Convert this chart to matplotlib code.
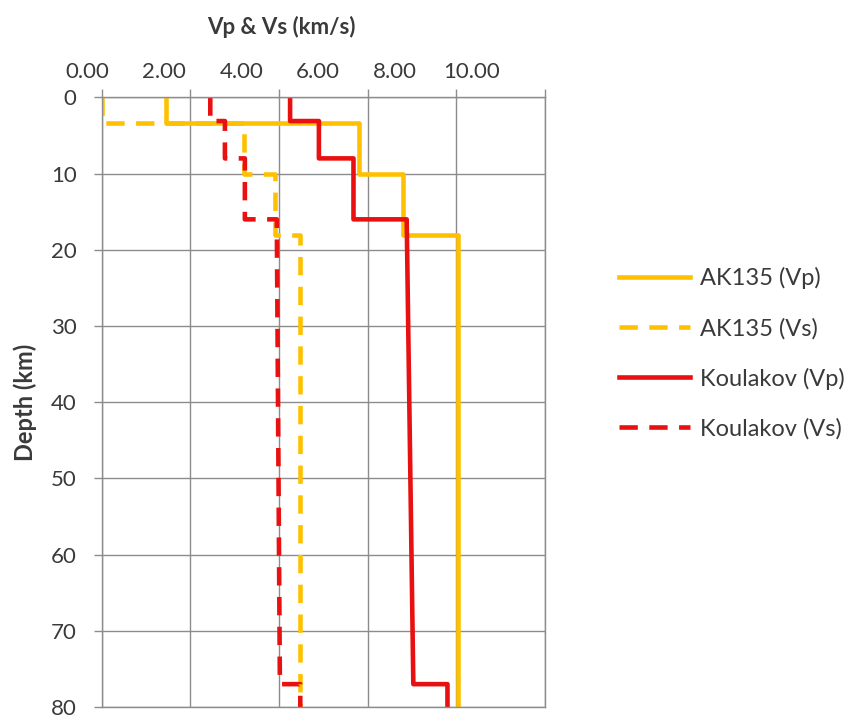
import numpy as np
import matplotlib.pyplot as plt

plt.rcParams['font.family'] = ['Lato', 'DejaVu Sans']

# step velocity profiles (depth km, velocity km/s)
ak_depth = [0, 3.3, 3.3, 10, 10, 18, 18, 80]
ak_vp = [1.45, 1.45, 5.8, 5.8, 6.8, 6.8, 8.04, 8.04]
ak_vs = [0.0, 0.0, 3.2, 3.2, 3.9, 3.9, 4.48, 4.48]

ko_depth = [0, 3.1, 3.1, 8, 8, 16, 16, 77, 77, 80]
ko_vp = [4.25, 4.25, 4.9, 4.9, 5.68, 5.68, 6.88, 7.03, 7.8, 7.8]
ko_vs = [2.45, 2.45, 2.78, 2.78, 3.23, 3.23, 3.95, 4.02, 4.48, 4.48]

x_ticks = [0, 2, 4, 6, 8, 10]
x_tick_labels = ['0.00', '2.00', '4.00', '6.00', '8.00', '10.00']
y_ticks = [0, 10, 20, 30, 40, 50, 60, 70, 80]

orange = '#FFC000'
red = '#E81010'
grid_col = '#8C8C8C'
txt = '#3A3A3A'

fig = plt.figure(figsize=(8.58, 7.18), dpi=100)
ax = fig.add_axes([0.1185, 0.0153, 0.5167, 0.849])

dash = (4, 2.5)
ax.plot(ak_vp, ak_depth, color=orange, lw=3.3, label='AK135 (Vp)')
ax.plot(ak_vs, ak_depth, color=orange, lw=3.3, dashes=dash, label='AK135 (Vs)')
ax.plot(ko_vp, ko_depth, color=red, lw=3.3, label='Koulakov (Vp)')
ax.plot(ko_vs, ko_depth, color=red, lw=3.3, dashes=dash, label='Koulakov (Vs)')

ax.set_xticks(x_ticks)
ax.set_yticks(y_ticks)
ax.set_xlim(0, 10)
ax.set_ylim(80, 0)
ax.xaxis.tick_top()
ax.tick_params(axis='x', labeltop=False, length=6, color=grid_col, width=1)
ax.tick_params(axis='y', length=6, color=grid_col, width=1, pad=12, labelsize=16, labelcolor=txt)
ax.grid(True, color=grid_col, lw=1)
ax.set_axisbelow(True)
for s in ax.spines.values():
    s.set_color(grid_col)
    s.set_linewidth(1)

# the original's top tick labels are spaced tighter than its grid,
# so they get their own (invisible) axes
lab = fig.add_axes([87.5 / 858, 0.0153, (472 - 87.5) / 858, 0.849])
lab.set_xlim(0, 10)
lab.set_xticks(x_ticks)
lab.set_xticklabels(x_tick_labels)
lab.xaxis.tick_top()
lab.set_yticks([])
lab.patch.set_visible(False)
lab.tick_params(axis='x', length=0, pad=11, labelsize=16, labelcolor=txt)
for s in lab.spines.values():
    s.set_visible(False)

fig.text(281 / 858, 1 - 27 / 718, 'Vp & Vs (km/s)', ha='center', va='center',
         fontsize=16, fontweight='bold', color=txt)
fig.text(25 / 858, 1 - 402 / 718, 'Depth (km)', ha='center', va='center',
         rotation=90, fontsize=17, fontweight='bold', color=txt)

leg = ax.legend(loc='center left', bbox_to_anchor=(1.12, 0.58), frameon=False,
                fontsize=17, handlelength=3.0, handletextpad=0.4, labelspacing=1.2)
for t in leg.get_texts():
    t.set_color(txt)

fig.savefig('out.png', dpi=100)
